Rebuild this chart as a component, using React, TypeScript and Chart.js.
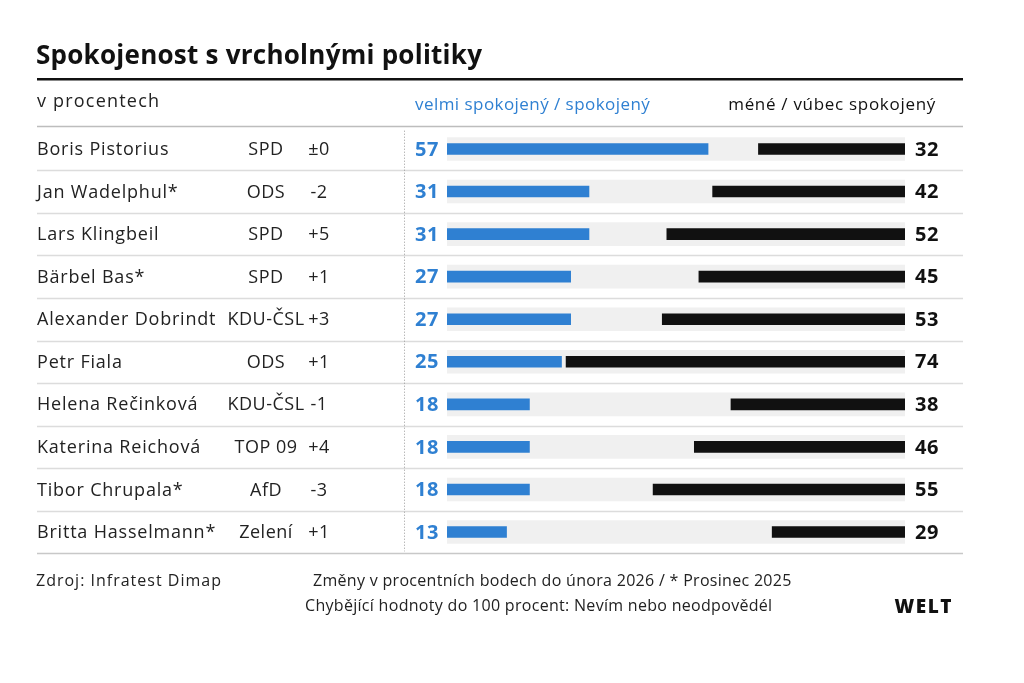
import React, { useEffect, useRef } from "react";
import { Chart, registerables } from "chart.js";

Chart.register(...registerables);

const names = [
  "Boris Pistorius",
  "Jan Wadelphul*",
  "Lars Klingbeil",
  "Bärbel Bas*",
  "Alexander Dobrindt",
  "Petr Fiala",
  "Helena Rečinková",
  "Katerina Reichová",
  "Tibor Chrupala*",
  "Britta Hasselmann*",
];
const parties = ["SPD", "ODS", "SPD", "SPD", "KDU-ČSL", "ODS", "KDU-ČSL", "TOP 09", "AfD", "Zelení"];
const changes = ["±0", "-2", "+5", "+1", "+3", "+1", "-1", "+4", "-3", "+1"];
const satisfied = [57, 31, 31, 27, 27, 25, 18, 18, 18, 13];
const dissatisfied = [32, 42, 52, 45, 53, 74, 38, 46, 55, 29];

const TITLE = "Spokojenost s vrcholnými politiky";
const SUBTITLE = "v procentech";
const LEG_BLUE = "velmi spokojený / spokojený";
const LEG_BLACK = "méné / vúbec spokojený";
const SOURCE = "Zdroj: Infratest Dimap";
const NOTE1 = "Změny v procentních bodech do února 2026 / * Prosinec 2025";
const NOTE2 = "Chybějící hodnoty do 100 procent: Nevím nebo neodpovědél";

const BLUE = "#2f80d2";
const BLACK = "#111111";
const FONT = "'Open Sans', 'Noto Sans', sans-serif";

function txt(ctx: any, s: string, x: number, y: number, font: string, color: string, align: string, spacing: number) {
  ctx.font = font;
  ctx.fillStyle = color;
  ctx.textAlign = align;
  ctx.letterSpacing = spacing + "px";
  ctx.fillText(s, x, y);
  ctx.letterSpacing = "0px";
}

export default function App() {
  const ref = useRef<HTMLCanvasElement | null>(null);

  useEffect(() => {
    document.body.style.margin = "0";
    const canvas = ref.current;
    if (!canvas) return;

    const overlay = {
      id: "overlay",
      beforeDatasetsDraw(chart: any) {
        const ctx = chart.ctx;
        const y = chart.scales.y;
        const area = chart.chartArea;
        const step = y.getPixelForValue(1) - y.getPixelForValue(0);
        ctx.save();
        ctx.lineWidth = 1.5;
        for (let i = 0; i < names.length; i++) {
          const yy = Math.round(y.getPixelForValue(i) + step / 2) + 0.5;
          ctx.strokeStyle = i === names.length - 1 ? "#c8c8c8" : "#dcdcdc";
          ctx.beginPath();
          ctx.moveTo(37, yy);
          ctx.lineTo(963, yy);
          ctx.stroke();
        }
        const top = y.getPixelForValue(0) - step / 2;
        ctx.strokeStyle = "#bdbdbd";
        ctx.beginPath();
        ctx.moveTo(37, Math.round(top - 2) + 0.5);
        ctx.lineTo(963, Math.round(top - 2) + 0.5);
        ctx.stroke();
        ctx.strokeStyle = "#9a9a9a";
        ctx.lineWidth = 1;
        ctx.setLineDash([1, 2]);
        ctx.beginPath();
        ctx.moveTo(404.5, top + 3);
        ctx.lineTo(404.5, area.bottom - 2);
        ctx.stroke();
        ctx.setLineDash([]);
        ctx.restore();
      },
      afterDatasetsDraw(chart: any) {
        const ctx = chart.ctx;
        const y = chart.scales.y;
        const area = chart.chartArea;
        ctx.save();
        ctx.textBaseline = "alphabetic";
        txt(ctx, TITLE, 36, 64, `bold 26px ${FONT}`, "#111", "left", 0.25);
        ctx.fillStyle = "#111";
        ctx.fillRect(37, 78, 926, 2.5);
        ctx.textBaseline = "middle";
        txt(ctx, SUBTITLE, 37, 102, `18px ${FONT}`, "#222", "left", 1.2);
        txt(ctx, LEG_BLUE, 415, 105, `17px ${FONT}`, BLUE, "left", 0.45);
        txt(ctx, LEG_BLACK, 936, 105, `17px ${FONT}`, "#111", "right", 0.7);
        for (let i = 0; i < names.length; i++) {
          const yy = y.getPixelForValue(i) + 1;
          const f = `18px ${FONT}`;
          txt(ctx, names[i], 37, yy, f, "#222", "left", 0.8);
          txt(ctx, parties[i], 266, yy, f, "#222", "center", 0.5);
          txt(ctx, changes[i], 319, yy, f, "#222", "center", 0.5);
          txt(ctx, String(satisfied[i]), area.left - 32, yy, `bold 20px ${FONT}`, BLUE, "left", 0.5);
          txt(ctx, String(dissatisfied[i]), area.right + 10, yy, `bold 20px ${FONT}`, "#111", "left", 0.5);
        }
        txt(ctx, SOURCE, 36, 581, `16px ${FONT}`, "#222", "left", 1.0);
        txt(ctx, NOTE1, 313, 581, `16px ${FONT}`, "#222", "left", 0.3);
        txt(ctx, NOTE2, 305, 606, `16px ${FONT}`, "#222", "left", 0.3);
        txt(ctx, "WELT", 953, 608, `800 19px ${FONT}`, "#111", "right", 1.5);
        ctx.restore();
      },
    };

    const chart = new Chart(canvas, {
      type: "bar",
      data: {
        labels: names,
        datasets: [
          {
            label: LEG_BLUE,
            data: satisfied.map((v) => [0, v]) as any,
            backgroundColor: BLUE,
            barThickness: 11,
            grouped: false,
            order: 1,
          },
          {
            label: LEG_BLACK,
            data: dissatisfied.map((v) => [100 - v, 100]) as any,
            backgroundColor: BLACK,
            barThickness: 11,
            grouped: false,
            order: 1,
          },
          {
            label: "bg",
            data: names.map(() => [0, 100]) as any,
            backgroundColor: "#f0f0f0",
            barThickness: 23,
            grouped: false,
            order: 2,
          },
        ],
      },
      options: {
        indexAxis: "y",
        animation: false,
        responsive: false,
        maintainAspectRatio: false,
        layout: { padding: { left: 447, right: 119, top: 127.7, bottom: 129.7 } },
        plugins: { legend: { display: false }, tooltip: { enabled: false }, title: { display: false } },
        scales: {
          x: { display: false, min: 0, max: 100 },
          y: { display: false },
        },
      },
      plugins: [overlay],
    });
    return () => chart.destroy();
  }, []);

  return (
    <div style={{ width: 1024, height: 683, background: "#fff" }}>
      <canvas ref={ref} width={1024} height={683} style={{ display: "block" }} />
    </div>
  );
}
